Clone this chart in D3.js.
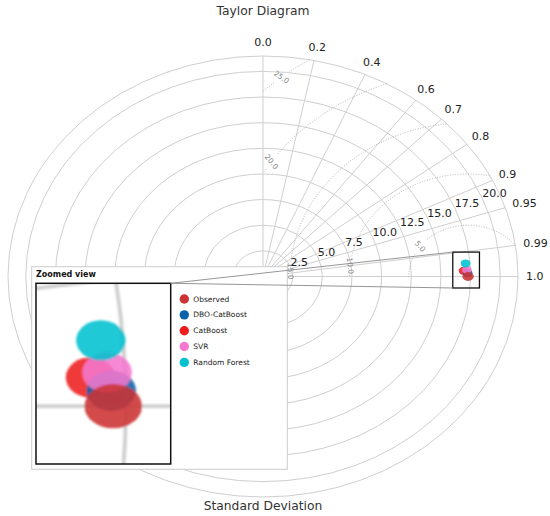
<!DOCTYPE html>
<html>
<head>
<meta charset="utf-8">
<script src="https://cdn.jsdelivr.net/npm/d3@7"></script>
<style>
  body { margin: 0; background: #fff; }
  text { font-family: "DejaVu Sans", sans-serif; }
</style>
</head>
<body>
<div id="chart"></div>
<script>
// ---- data ----
const corrTicks  = [0, 0.2, 0.4, 0.6, 0.7, 0.8, 0.9, 0.95, 0.99, 1];
const corrLabels = ["0.0", "0.2", "0.4", "0.6", "0.7", "0.8", "0.9", "0.95", "0.99", "1.0"];
const stdTicks   = [2.5, 5, 7.5, 10, 12.5, 15, 17.5, 20];
const rmsLevels  = [5, 10, 15, 20, 25];
const rmsLabelAngle = [144, 174, 178, 146, 129];   // where the contour label sits (deg around obs)

const models     = ["Observed", "DBO-CatBoost", "CatBoost", "SVR", "Random Forest"];
const stdValues  = [17.29, 17.26, 16.92, 17.20, 17.13];
const corrValues = [1.0, 0.99985, 0.99946, 0.99928, 0.99723];
const colors     = ["#cc3333", "#0a62a8", "#ee1c1c", "#f577cf", "#00c2cf"];
const drawOrder  = [2, 1, 3, 4, 0];

const zoomU = [16.0, 18.25];   // zoom window, std-dev units
const zoomV = [-1.12, 2.38];

// ---- layout ----
const W = 550, H = 516;
const cx = 263, cy = 276.5, rmax = 21.5;
const sx = d3.scaleLinear().domain([0, rmax]).range([0, 255]);
const sy = d3.scaleLinear().domain([0, rmax]).range([0, 220.5]);
const obs = stdValues[0];

function px(u, v) { return [cx + sx(u), cy - sy(v)]; }
function pt(r, th) { return px(r * Math.cos(th), r * Math.sin(th)); }

const svg = d3.select("#chart").append("svg")
    .attr("width", W).attr("height", H);

const defs = svg.append("defs");
defs.append("clipPath").attr("id", "insetClip")
    .append("rect").attr("x", 36).attr("y", 283.3).attr("width", 134.7).attr("height", 180.7);
defs.append("filter").attr("id", "soft").attr("x", "-10%").attr("y", "-10%")
    .attr("width", "120%").attr("height", "120%")
    .append("feGaussianBlur").attr("stdDeviation", 1.2);

// grid + markers, used for main plot and inset
function drawPlot(g, lw, withLabels) {
    // std rings (full ellipse like the source figure)
    g.selectAll(".ring").data(stdTicks.concat([rmax])).join("ellipse")
        .attr("cx", cx).attr("cy", cy)
        .attr("rx", d => sx(d)).attr("ry", d => sy(d))
        .attr("fill", "none").attr("stroke", "#cfcfcf").attr("stroke-width", lw);

    // correlation rays
    g.selectAll(".ray").data(corrTicks).join("line")
        .attr("x1", cx).attr("y1", cy)
        .attr("x2", d => pt(rmax, Math.acos(d))[0])
        .attr("y2", d => pt(rmax, Math.acos(d))[1])
        .attr("stroke", "#cfcfcf").attr("stroke-width", lw);

    // centred RMS contours
    const line = d3.line().defined(d => d.ok).x(d => d.x).y(d => d.y);
    rmsLevels.forEach((L, i) => {
        const la = rmsLabelAngle[i] * Math.PI / 180;
        const lp = px(obs + L * Math.cos(la), L * Math.sin(la));
        const pts = d3.range(0, 1801).map(k => {
            const a = k / 1800 * Math.PI;
            const u = obs + L * Math.cos(a), v = L * Math.sin(a);
            const p = px(u, v);
            const inside = u >= 0 && v >= 0 && Math.hypot(u, v) <= rmax;
            const gap = withLabels && Math.hypot(p[0] - lp[0], p[1] - lp[1]) < 9;
            return {x: p[0], y: p[1], ok: inside && !gap};
        });
        g.append("path").attr("d", line(pts))
            .attr("fill", "none").attr("stroke", "#a8a8a8")
            .attr("stroke-width", lw * 0.9).attr("stroke-dasharray", "1,1.6");
        if (withLabels) {
            const ang = Math.atan2(sy(Math.cos(la)) * -1, sx(Math.sin(la))) * 180 / Math.PI;
            g.append("text").attr("x", lp[0]).attr("y", lp[1])
                .attr("transform", `rotate(${ang},${lp[0]},${lp[1]})`)
                .attr("text-anchor", "middle").attr("dominant-baseline", "central")
                .attr("font-size", 7.5).attr("fill", "#8a8a8a")
                .text(d3.format(".1f")(L));
        }
    });

    // model points (observed on top)
    g.selectAll(".pt").data(drawOrder).join("ellipse")
        .attr("cx", i => pt(stdValues[i], Math.acos(corrValues[i]))[0])
        .attr("cy", i => pt(stdValues[i], Math.acos(corrValues[i]))[1])
        .attr("rx", i => i === 0 ? 5.7 : 4.9)
        .attr("ry", i => i === 0 ? 4.4 : 4.0)
        .attr("fill", i => colors[i]).attr("fill-opacity", 0.88);
}

const main = svg.append("g");
drawPlot(main, 1, true);

// std labels along the 22.5 deg ray
main.selectAll(".slab").data(stdTicks).join("text")
    .attr("x", d => pt(d, Math.PI / 8)[0])
    .attr("y", d => pt(d, Math.PI / 8)[1] - 1)
    .attr("font-size", 11).attr("fill", "#222")
    .text(d => d3.format(".1f")(d));

// correlation labels round the rim
corrTicks.forEach((t, i) => {
    const th = Math.acos(t);
    const lab = main.append("text")
        .attr("font-size", 11).attr("fill", "#222")
        .attr("text-anchor", "middle").attr("dominant-baseline", "central")
        .text(corrLabels[i]);
    const w = lab.node().getComputedTextLength();
    const x = cx + (sx(rmax) + 8) * Math.cos(th) + w / 2 * Math.cos(th);
    const y = cy - (sy(rmax) + 8) * Math.sin(th) - 5.5 * Math.sin(th);
    lab.attr("x", x).attr("y", y);
});

svg.append("text").attr("x", cx).attr("y", 11)
    .attr("text-anchor", "middle").attr("dominant-baseline", "central")
    .attr("font-size", 12.3).attr("fill", "#333").text("Taylor Diagram");
svg.append("text").attr("x", cx).attr("y", 506)
    .attr("text-anchor", "middle").attr("dominant-baseline", "central")
    .attr("font-size", 12.3).attr("fill", "#333").text("Standard Deviation");

// zoom window on the main plot
const z0 = px(zoomU[0], zoomV[1]), z1 = px(zoomU[1], zoomV[0]);
svg.append("rect").attr("x", z0[0]).attr("y", z0[1])
    .attr("width", z1[0] - z0[0]).attr("height", z1[1] - z0[1])
    .attr("fill", "none").attr("stroke", "#111").attr("stroke-width", 1.3);

// ---- inset panel ----
svg.append("rect").attr("x", 31.7).attr("y", 266.7).attr("width", 255.6).attr("height", 202.6)
    .attr("fill", "#fff").attr("stroke", "#cccccc").attr("stroke-width", 1);
svg.append("text").attr("x", 36).attr("y", 274.3).attr("dominant-baseline", "central")
    .attr("font-size", 8).attr("font-weight", "bold").attr("fill", "#111").text("Zoomed view");

const bx = 36, by = 283.3, bw = 134.7, bh = 180.7;
const kx = bw / (z1[0] - z0[0]), ky = bh / (z1[1] - z0[1]);
const inset = svg.append("g").attr("clip-path", "url(#insetClip)")
    .append("g").attr("filter", "url(#soft)")
    .append("g").attr("transform", `translate(${bx},${by}) scale(${kx},${ky}) translate(${-z0[0]},${-z0[1]})`);
drawPlot(inset, 0.75, false);

svg.append("rect").attr("x", bx).attr("y", by).attr("width", bw).attr("height", bh)
    .attr("fill", "none").attr("stroke", "#111").attr("stroke-width", 1.5);

// connector lines
[z0[1], z1[1]].forEach(yy => {
    svg.append("line").attr("x1", bx + bw).attr("y1", by).attr("x2", z0[0]).attr("y2", yy)
        .attr("stroke", "#8a8a8a").attr("stroke-width", 0.9);
});

// legend inside panel
const leg = svg.append("g").selectAll("g").data(models).join("g")
    .attr("transform", (d, i) => `translate(184.3,${299 + i * 15.85})`);
leg.append("circle").attr("r", 4.7).attr("fill", (d, i) => colors[i]);
leg.append("text").attr("x", 9).attr("dominant-baseline", "central")
    .attr("font-size", 7.5).attr("fill", "#222").text(d => d);
</script>
</body>
</html>
